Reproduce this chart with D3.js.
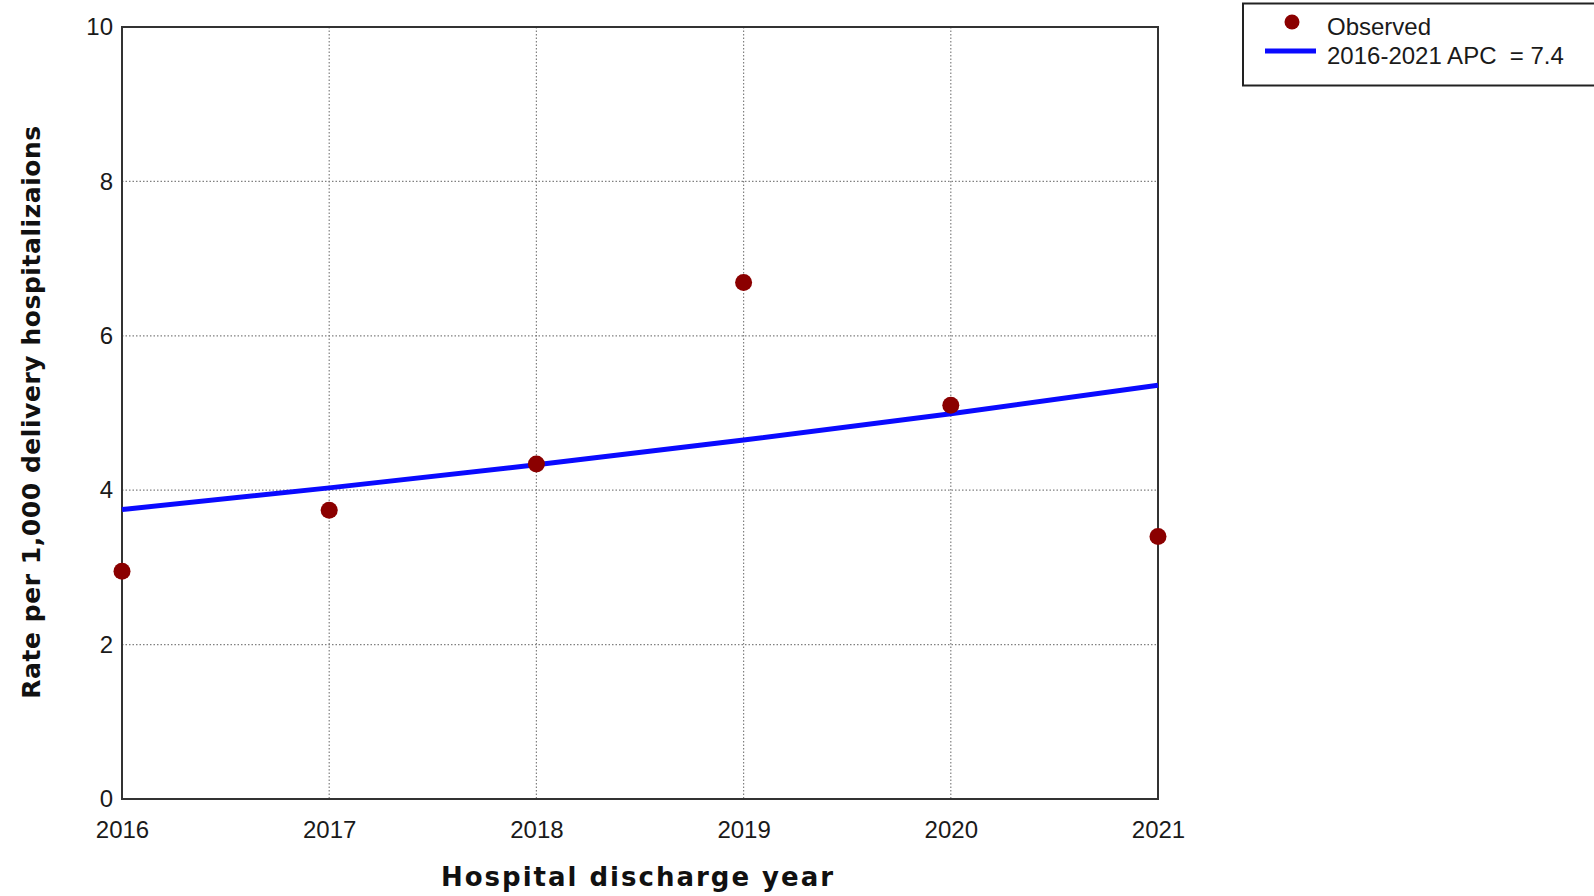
<!DOCTYPE html>
<html>
<head>
<meta charset="utf-8">
<script src="https://cdn.jsdelivr.net/npm/d3@7"></script>
<style>
  html, body { margin: 0; padding: 0; background: #fff; }
  svg { display: block; }
</style>
</head>
<body>
<svg id="chart" width="1594" height="896"></svg>
<script>
// ---- data ----
const years = [2016, 2017, 2018, 2019, 2020, 2021];
const observed = [2.95, 3.74, 4.34, 6.69, 5.10, 3.40];
const fitted = [3.75, 4.03, 4.33, 4.65, 4.99, 5.36];
const yTicks = [0, 2, 4, 6, 8, 10];
const xTicks = [2016, 2017, 2018, 2019, 2020, 2021];
const legendLabels = ["Observed", "2016-2021 APC  = 7.4"];
const xTitle = "Hospital discharge year";
const yTitle = "Rate per 1,000 delivery hospitalizaions";

// ---- layout ----
const svg = d3.select("#chart");
const L = 122, R = 1158, T = 27, B = 799;
const x = d3.scaleLinear().domain([2016, 2021]).range([L, R]);
const y = d3.scaleLinear().domain([0, 10]).range([B, T]);

const tickFont = "'Liberation Sans', Arial, sans-serif";
const titleFont = "'DejaVu Sans', Verdana, sans-serif";

// grid lines
const grid = svg.append("g");
grid.selectAll("line.gx").data(xTicks.slice(1, -1)).join("line")
  .attr("x1", d => x(d)).attr("x2", d => x(d))
  .attr("y1", T).attr("y2", B)
  .attr("stroke", "#808080").attr("stroke-width", 1.2)
  .attr("stroke-dasharray", "1.5,2");
grid.selectAll("line.gy").data(yTicks.slice(1, -1)).join("line")
  .attr("y1", d => y(d)).attr("y2", d => y(d))
  .attr("x1", L).attr("x2", R)
  .attr("stroke", "#808080").attr("stroke-width", 1.2)
  .attr("stroke-dasharray", "1.5,2");

// axes (labels only)
const yAxis = svg.append("g").attr("transform", `translate(${L},0)`)
  .call(d3.axisLeft(y).tickValues(yTicks).tickSize(0).tickPadding(9).tickFormat(d3.format("d")));
const xAxis = svg.append("g").attr("transform", `translate(0,${B})`)
  .call(d3.axisBottom(x).tickValues(xTicks).tickSize(0).tickPadding(22).tickFormat(d3.format("d")));
[yAxis, xAxis].forEach(a => {
  a.select(".domain").remove();
  a.selectAll("text").attr("font-family", tickFont).attr("font-size", 24).attr("fill", "#1a1a1a");
});

// frame
svg.append("rect").attr("x", L).attr("y", T).attr("width", R - L).attr("height", B - T)
  .attr("fill", "none").attr("stroke", "#333").attr("stroke-width", 2);

// fitted line
const line = d3.line().x((d, i) => x(years[i])).y(d => y(d)).curve(d3.curveMonotoneX);
svg.append("path").datum(fitted).attr("d", line)
  .attr("fill", "none").attr("stroke", "#0a0aff").attr("stroke-width", 5);

// observed points
svg.selectAll("circle.obs").data(observed).join("circle")
  .attr("class", "obs")
  .attr("cx", (d, i) => x(years[i])).attr("cy", d => y(d)).attr("r", 8.5)
  .attr("fill", "#8b0000");

// axis titles
svg.append("text").attr("x", (L + R) / 2 - 2).attr("y", 886)
  .attr("text-anchor", "middle").attr("font-family", titleFont)
  .attr("font-weight", "bold").attr("font-size", 26).attr("letter-spacing", 2)
  .attr("fill", "#111")
  .text(xTitle);
svg.append("text").attr("transform", "translate(40,412) rotate(-90)")
  .attr("text-anchor", "middle").attr("font-family", titleFont)
  .attr("font-weight", "bold").attr("font-size", 25).attr("letter-spacing", 0.55)
  .attr("fill", "#111")
  .text(yTitle);

// legend
const lg = svg.append("g");
lg.append("rect").attr("x", 1243).attr("y", 3.5).attr("width", 360).attr("height", 82)
  .attr("fill", "#fff").attr("stroke", "#222").attr("stroke-width", 2);
lg.append("circle").attr("cx", 1292).attr("cy", 22).attr("r", 7.5).attr("fill", "#8b0000");
lg.append("line").attr("x1", 1265).attr("x2", 1316).attr("y1", 51).attr("y2", 51)
  .attr("stroke", "#0a0aff").attr("stroke-width", 5);
lg.selectAll("text").data(legendLabels).join("text")
  .attr("x", 1327).attr("y", (d, i) => 35 + i * 29)
  .attr("font-family", tickFont).attr("font-size", 24).attr("fill", "#1a1a1a")
  .style("white-space", "pre")
  .text(d => d);
</script>
</body>
</html>
